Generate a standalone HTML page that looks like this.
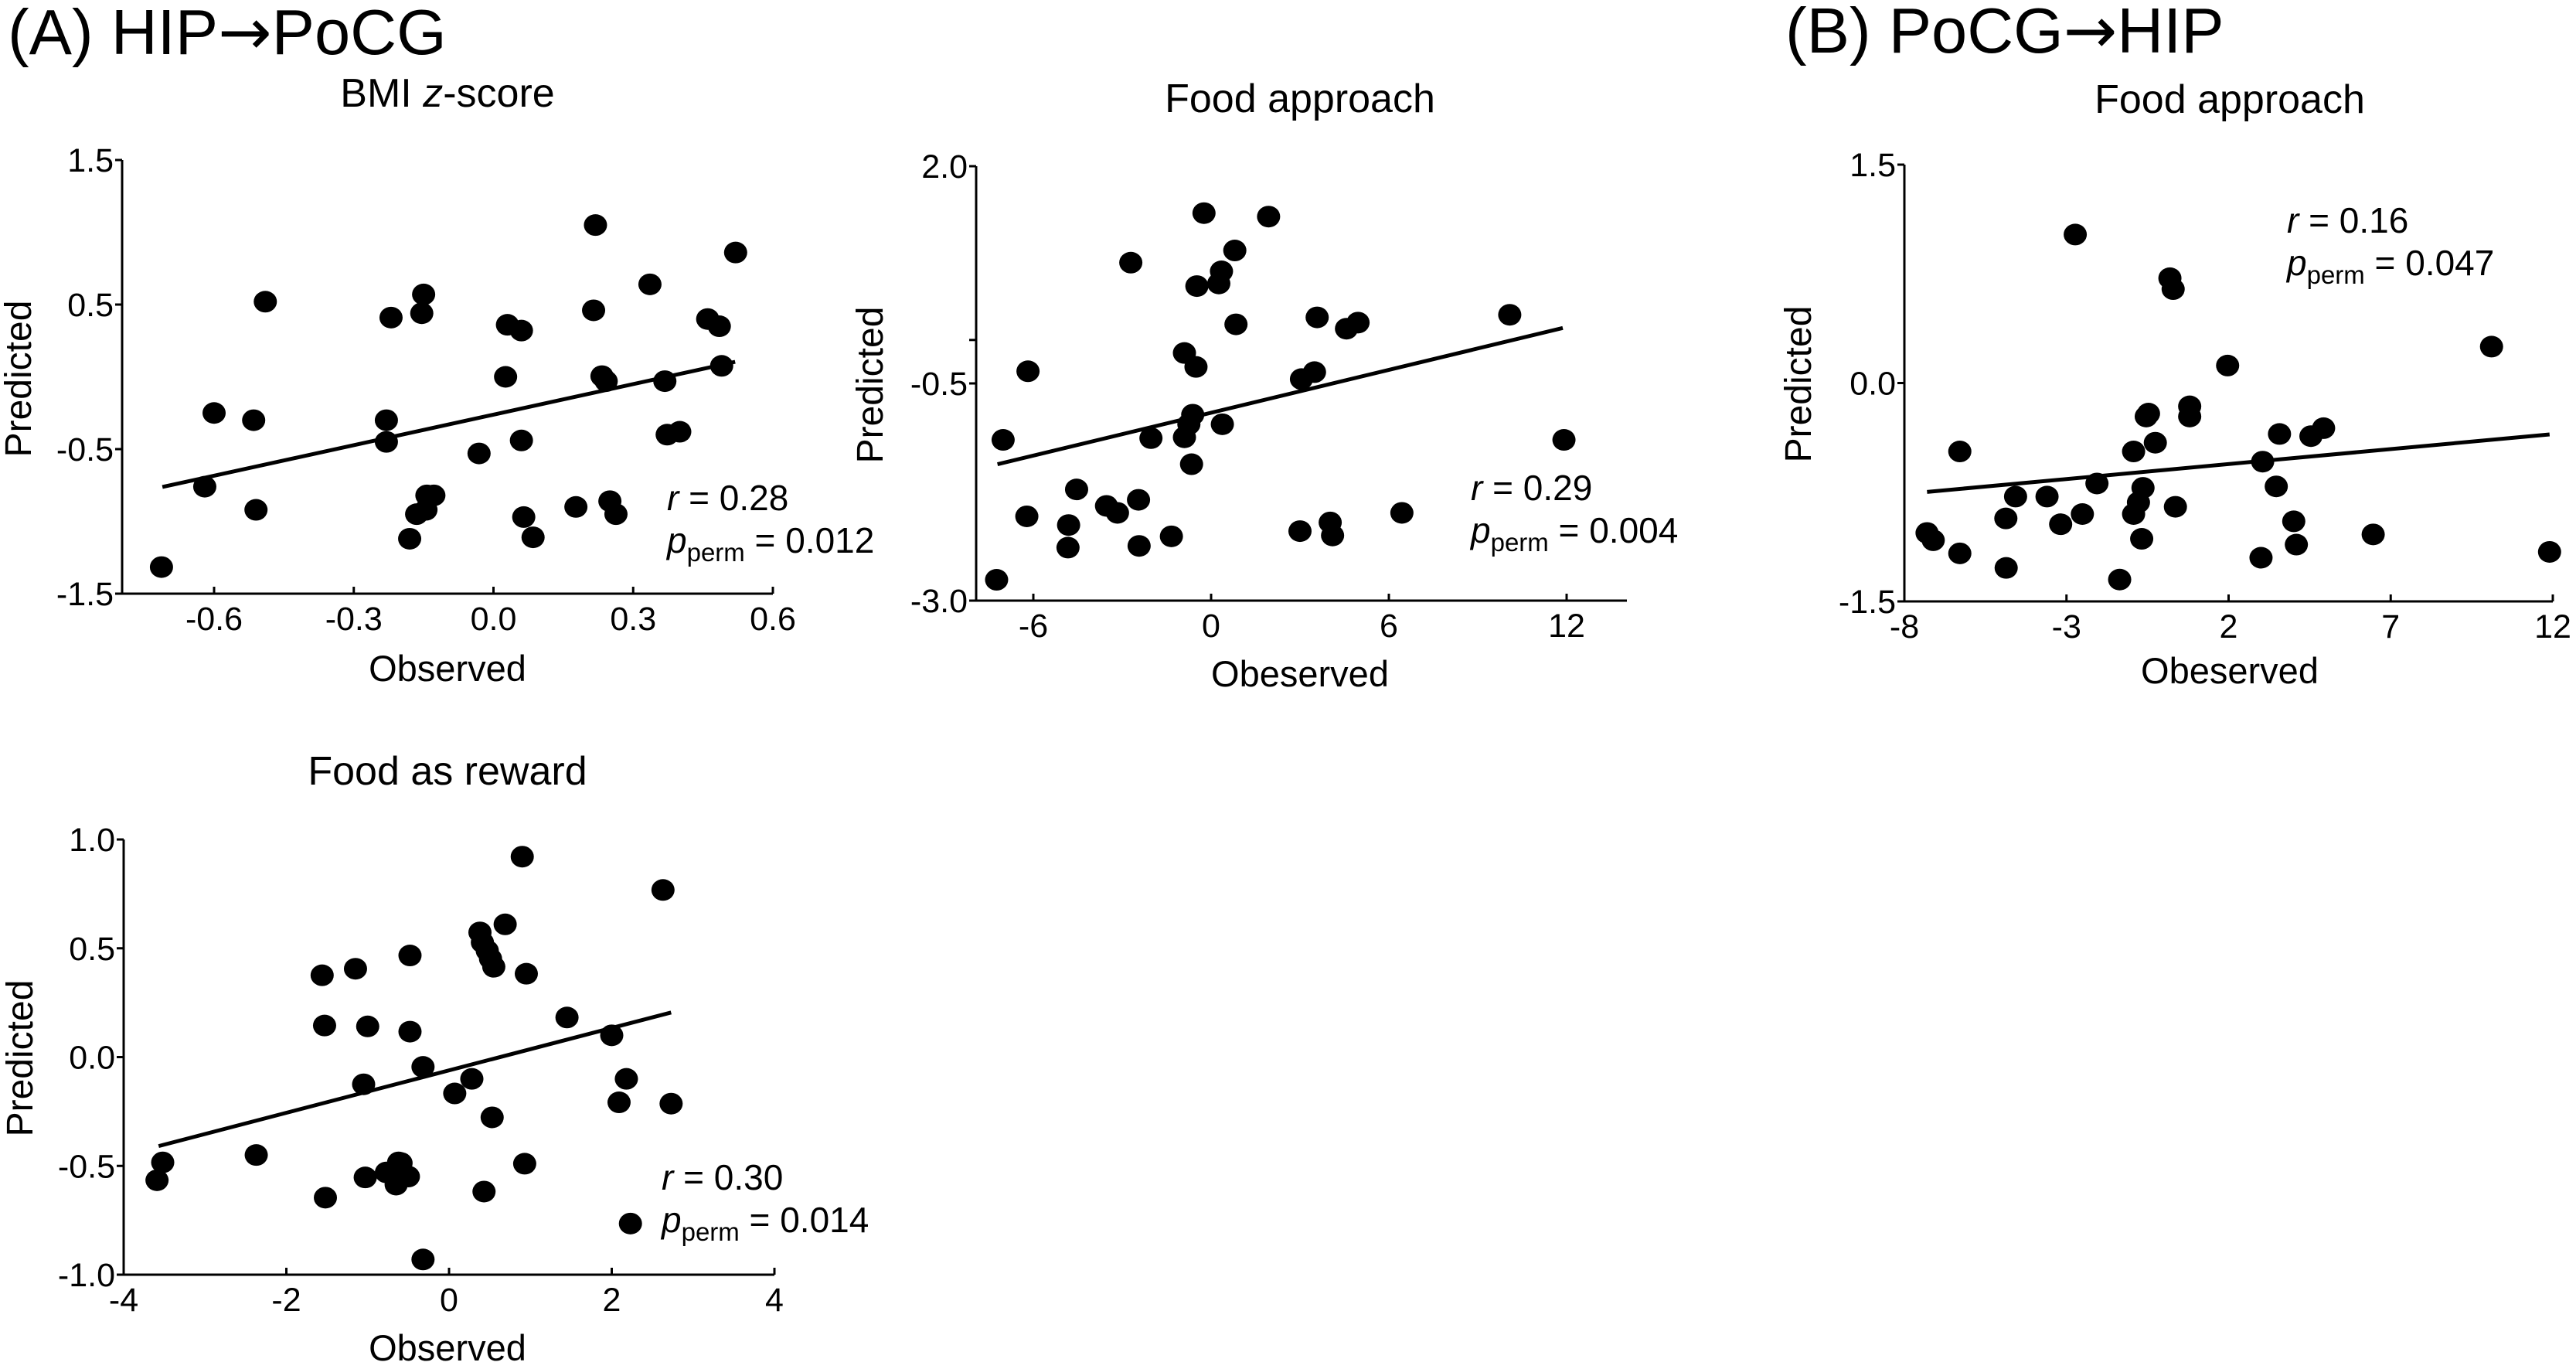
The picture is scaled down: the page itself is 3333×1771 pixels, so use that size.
<!DOCTYPE html>
<html><head><meta charset="utf-8"><style>
html,body{margin:0;padding:0;background:#fff;}
svg{display:block;font-family:"Liberation Sans",Arial,sans-serif;}
</style></head><body>
<svg id="fig" width="3333" height="1771" viewBox="0 0 3333 1771" xmlns="http://www.w3.org/2000/svg">
<rect width="3333" height="1771" fill="#fff"/>
<text x="10" y="70" font-size="83">(A) HIP<tspan font-family="DejaVu Sans, sans-serif">→</tspan>PoCG</text>
<text x="2310" y="68" font-size="83">(B) PoCG<tspan font-family="DejaVu Sans, sans-serif">→</tspan>HIP</text>
</svg>
<script>
// ---- Plot 1: BMI z-score ----
const bmiObserved = [-0.713,-0.62,-0.60,-0.51,-0.515,-0.49,-0.23,-0.23,-0.22,-0.18,-0.165,-0.15,-0.154,-0.145,-0.143,-0.128,-0.031,0.026,0.03,0.06,0.06,0.065,0.085,0.177,0.215,0.219,0.233,0.242,0.25,0.263,0.336,0.368,0.373,0.40,0.46,0.485,0.49,0.52];
const bmiPredicted = [-1.316,-0.76,-0.25,-0.92,-0.30,0.52,-0.30,-0.45,0.41,-1.12,-0.95,0.57,0.44,-0.92,-0.82,-0.82,-0.53,0.0,0.36,0.32,-0.44,-0.97,-1.11,-0.90,0.46,1.05,0.005,-0.03,-0.86,-0.95,0.64,-0.03,-0.40,-0.38,0.40,0.35,0.076,0.86];
const bmiFitX = [-0.711,0.519];
const bmiFitY = [-0.762,0.104];
const bmiXTicks = [-0.6,-0.3,0.0,0.3,0.6];
const bmiXTickLabels = ["-0.6","-0.3","0.0","0.3","0.6"];
const bmiYTicks = [1.5,0.5,-0.5,-1.5];
const bmiYTickLabels = ["1.5","0.5","-0.5","-1.5"];

// ---- Plot 2: Food approach (A) ----
const faObserved = [-7.24,-7.02,-6.22,-6.18,-4.81,-4.83,-4.54,-3.53,-3.16,-2.71,-2.45,-2.43,-2.03,-1.34,-0.90,-0.90,-0.75,-0.66,-0.62,-0.51,-0.48,-0.24,0.26,0.35,0.38,0.80,0.84,1.94,3.0,3.05,3.49,3.58,4.02,4.10,4.57,4.96,6.44,10.08,11.91];
const faPredicted = [-2.76,-1.15,-2.03,-0.36,-2.13,-2.39,-1.72,-1.91,-1.99,0.89,-1.84,-2.37,-1.13,-2.26,-0.15,-1.12,-0.97,-1.43,-0.86,-0.31,0.62,1.46,0.65,0.79,-0.97,1.03,0.18,1.42,-2.20,-0.45,-0.37,0.26,-2.10,-2.25,0.13,0.20,-1.99,0.29,-1.15];
const faFitX = [-7.21,11.87];
const faFitY = [-1.43,0.138];
const faXTicks = [-6,0,6,12];
const faXTickLabels = ["-6","0","6","12"];
const faYTicks = [2.0,0.0,-0.5,-3.0];
const faYTickLabels = ["2.0","","-0.5","-3.0"];

// ---- Plot 3: Food approach (B) ----
const fbObserved = [-7.30,-7.11,-6.29,-6.29,-4.87,-4.86,-4.57,-3.60,-3.18,-2.73,-2.51,-2.06,-1.36,-0.93,-0.93,-0.78,-0.64,-0.68,-0.54,-0.47,-0.26,0.19,0.29,0.36,0.80,0.80,1.97,3.00,3.05,3.47,3.57,4.01,4.09,4.54,4.93,6.46,10.11,11.90];
const fbPredicted = [-1.03,-1.08,-0.47,-1.17,-0.93,-1.27,-0.78,-0.78,-0.97,1.02,-0.90,-0.69,-1.35,-0.47,-0.90,-0.82,-0.72,-1.07,-0.23,-0.21,-0.41,0.72,0.645,-0.85,-0.16,-0.23,0.12,-1.20,-0.54,-0.71,-0.35,-0.95,-1.11,-0.365,-0.31,-1.04,0.25,-1.16];
const fbFitX = [-7.30,11.9];
const fbFitY = [-0.748,-0.353];
const fbXTicks = [-8,-3,2,7,12];
const fbXTickLabels = ["-8","-3","2","7","12"];
const fbYTicks = [1.5,0.0,-1.5];
const fbYTickLabels = ["1.5","0.0","-1.5"];

// ---- Plot 4: Food as reward ----
const frObserved = [-3.59,-3.52,-2.37,-1.56,-1.53,-1.52,-1.15,-1.05,-1.03,-1.00,-0.77,-0.65,-0.62,-0.59,-0.50,-0.48,-0.48,-0.32,-0.32,0.07,0.28,0.38,0.41,0.43,0.47,0.51,0.55,0.53,0.69,0.90,0.93,0.95,1.45,2.0,2.09,2.18,2.23,2.63,2.73];
const frPredicted = [-0.566,-0.484,-0.45,0.376,0.145,-0.646,0.406,-0.125,-0.553,0.141,-0.53,-0.586,-0.484,-0.487,-0.549,0.467,0.117,-0.045,-0.93,-0.167,-0.10,0.573,0.527,-0.618,0.489,0.452,0.415,-0.277,0.61,0.921,-0.49,0.383,0.182,0.10,-0.208,-0.10,-0.765,0.768,-0.214];
const frFitX = [-3.57,2.73];
const frFitY = [-0.409,0.205];
const frXTicks = [-4,-2,0,2,4];
const frXTickLabels = ["-4","-2","0","2","4"];
const frYTicks = [1.0,0.5,0.0,-0.5,-1.0];
const frYTickLabels = ["1.0","0.5","0.0","-0.5","-1.0"];

const NS = "http://www.w3.org/2000/svg";
const svg = document.getElementById("fig");
function mk(tag, attrs, parent){
  const e = document.createElementNS(NS, tag);
  for (const k in attrs) e.setAttribute(k, attrs[k]);
  (parent||svg).appendChild(e);
  return e;
}
function linScale(v0,p0,v1,p1){ return v => p0 + (v - v0) * (p1 - p0) / (v1 - v0); }

function drawPlot(cfg){
  const g = mk("g", {});
  
  
  const sx = linScale(cfg.xv0,cfg.xp0,cfg.xv1,cfg.xp1);
  const sy = linScale(cfg.yv0,cfg.yp0,cfg.yv1,cfg.yp1);
  const ax = cfg.axisLeft, ab = cfg.axisBottom;
  const ya = mk("line",{x1:ax,y1:cfg.axisTop,x2:ax,y2:ab,stroke:"#000","stroke-width":3},g);
  
  
  const xa = mk("line",{x1:ax,y1:ab,x2:cfg.axisRight,y2:ab,stroke:"#000","stroke-width":3},g);
  
  
  cfg.xTicks.forEach((t,i)=>{
    const x = sx(t);
    mk("line",{x1:x,y1:ab,x2:x,y2:ab-9,stroke:"#000","stroke-width":3},g);
    const tl = mk("text",{x:x,y:ab+47,"font-size":43,"text-anchor":"middle"},g);
    
    
    tl.textContent = cfg.xTickLabels[i];
  });
  cfg.yTicks.forEach((t,i)=>{
    const y = sy(t);
    mk("line",{x1:ax-9,y1:y,x2:ax,y2:y,stroke:"#000","stroke-width":3},g);
    const tl = mk("text",{x:ax-11,y:y+15,"font-size":43,"text-anchor":"end"},g);
    
    
    tl.textContent = cfg.yTickLabels[i];
  });
  cfg.xs.forEach((xv,i)=>{
    const c = mk("ellipse",{cx:sx(xv),cy:sy(cfg.ys[i]),rx:15,ry:14,fill:"#000"},g);
    
    
  });
  const fl = mk("line",{x1:sx(cfg.fitX[0]),y1:sy(cfg.fitY[0]),x2:sx(cfg.fitX[1]),y2:sy(cfg.fitY[1]),stroke:"#000","stroke-width":5},g);
  
  
  const tt = mk("text",{x:cfg.titleX,y:cfg.titleY,"font-size":52,"text-anchor":"middle"},g);
  
  
  tt.innerHTML = cfg.title;
  const xl = mk("text",{x:cfg.titleX,y:cfg.xLabelY,"font-size":47,"text-anchor":"middle"},g);
  
  
  xl.textContent = cfg.xLabel;
  const yl = mk("text",{x:0,y:0,"font-size":48,"text-anchor":"middle",transform:`translate(${cfg.yLabelX},${cfg.yLabelY}) rotate(-90)`},g);
  
  
  yl.textContent = "Predicted";
  const r = mk("text",{x:cfg.statX,y:cfg.statY,"font-size":46},g);
  
  
  r.innerHTML = '<tspan font-style="italic">r</tspan> = ' + cfg.r;
  const p = mk("text",{x:cfg.statX,y:cfg.statY+55,"font-size":46},g);
  
  
  p.innerHTML = '<tspan font-style="italic">p</tspan><tspan font-size="33" dy="11">perm</tspan><tspan dy="-11"> = ' + cfg.p + '</tspan>';
}

drawPlot({name:"bmi-zscore-plot",xs:bmiObserved,ys:bmiPredicted,fitX:bmiFitX,fitY:bmiFitY,
  xTicks:bmiXTicks,xTickLabels:bmiXTickLabels,yTicks:bmiYTicks,yTickLabels:bmiYTickLabels,
  xv0:-0.6,xp0:277,xv1:0.6,xp1:1000,yv0:1.5,yp0:207,yv1:-1.5,yp1:768,
  axisLeft:158,axisRight:1000,axisTop:207,axisBottom:768,
  title:'BMI <tspan font-style="italic">z</tspan>-score',titleX:579,titleY:138,xLabel:"Observed",xLabelY:881,
  yLabelX:40,yLabelY:490,statX:863,statY:660,r:"0.28",p:"0.012"});
drawPlot({name:"food-approach-a-plot",xs:faObserved,ys:faPredicted,fitX:faFitX,fitY:faFitY,
  xTicks:faXTicks,xTickLabels:faXTickLabels,yTicks:faYTicks,yTickLabels:faYTickLabels,
  xv0:-6,xp0:1337,xv1:12,xp1:2027,yv0:2.0,yp0:215,yv1:-3.0,yp1:777,
  axisLeft:1263,axisRight:2105,axisTop:215,axisBottom:777,
  title:'Food approach',titleX:1682,titleY:145,xLabel:"Obeserved",xLabelY:888,
  yLabelX:1142,yLabelY:498,statX:1903,statY:647,r:"0.29",p:"0.004"});
drawPlot({name:"food-approach-b-plot",xs:fbObserved,ys:fbPredicted,fitX:fbFitX,fitY:fbFitY,
  xTicks:fbXTicks,xTickLabels:fbXTickLabels,yTicks:fbYTicks,yTickLabels:fbYTickLabels,
  xv0:-8,xp0:2464,xv1:12,xp1:3303,yv0:1.5,yp0:213,yv1:-1.5,yp1:778,
  axisLeft:2464,axisRight:3303,axisTop:213,axisBottom:778,
  title:'Food approach',titleX:2885,titleY:146,xLabel:"Obeserved",xLabelY:884,
  yLabelX:2343,yLabelY:497,statX:2959,statY:301,r:"0.16",p:"0.047"});
drawPlot({name:"food-as-reward-plot",xs:frObserved,ys:frPredicted,fitX:frFitX,fitY:frFitY,
  xTicks:frXTicks,xTickLabels:frXTickLabels,yTicks:frYTicks,yTickLabels:frYTickLabels,
  xv0:-4,xp0:160,xv1:4,xp1:1002,yv0:1.0,yp0:1086,yv1:-1.0,yp1:1649,
  axisLeft:160,axisRight:1002,axisTop:1086,axisBottom:1649,
  title:'Food as reward',titleX:579,titleY:1015,xLabel:"Observed",xLabelY:1760,
  yLabelX:42,yLabelY:1369,statX:856,statY:1539,r:"0.30",p:"0.014"});
</script>
</body></html>
